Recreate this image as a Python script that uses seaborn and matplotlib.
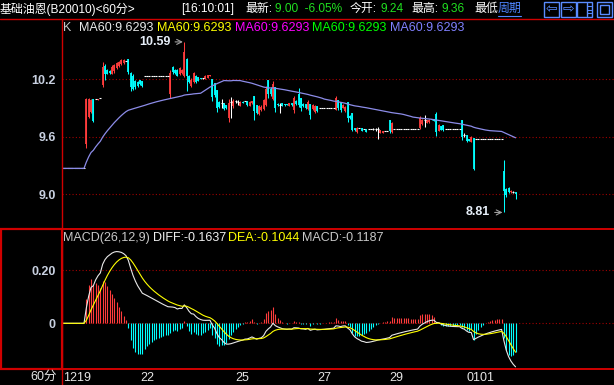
import numpy as np
import pandas as pd
import seaborn as sns
import matplotlib.pyplot as plt
from matplotlib.lines import Line2D
from matplotlib.patches import Rectangle

#--> 60 minute bars (index 0 = first slot of 1219)
bar_open = [
    9.27, 9.27, 9.27, 9.27, 9.27, 9.27, 9.27, 9.27, 9.27, 9.27,
    9.52, 9.81, 9.86, 9.99, 9.99, 9.98, 10.00, 10.14, 10.34, 10.30,
    10.29, 10.26, 10.29, 10.32, 10.34, 10.36, 10.37, 10.39, 10.41, 10.27,
    10.23, 10.18, 10.17, 10.19, 10.18, 10.23, 10.23, 10.23, 10.23, 10.23,
    10.23, 10.23, 10.23, 10.23, 10.23, 10.23, 10.05, 10.33, 10.30, 10.30,
    10.25, 10.27, 10.23, 10.41, 10.23, 10.13, 10.17, 10.23, 10.22, 10.21,
    10.21, 10.20, 10.21, 10.23, 10.20, 10.16, 10.09, 9.96, 9.95, 9.95,
    9.93, 9.80, 9.96, 9.92, 9.97, 9.96, 9.92, 9.96, 9.97, 9.97,
    9.92, 9.95, 10.03, 9.93, 9.84, 9.88, 9.89, 9.93, 10.19, 10.10,
    9.99, 10.12, 9.94, 9.93, 9.95, 9.94, 9.94, 9.92, 9.95, 9.88,
    9.97, 10.05, 10.00, 9.94, 9.94, 9.89, 9.94, 9.89, 9.86, 9.92,
    9.90, 9.90, 9.90, 9.90, 9.90, 9.90, 9.90, 9.88, 9.98, 9.96,
    9.90, 9.87, 9.96, 9.82, 9.85, 9.69, 9.65, 9.69, 9.69, 9.68,
    9.68, 9.68, 9.68, 9.68, 9.68, 9.68, 9.64, 9.64, 9.66, 9.66,
    9.77, 9.65, 9.68, 9.68, 9.68, 9.68, 9.68, 9.68, 9.68, 9.68,
    9.68, 9.68, 9.68, 9.69, 9.73, 9.77, 9.74, 9.75, 9.79, 9.79,
    9.84, 9.66, 9.71, 9.72, 9.68, 9.68, 9.68, 9.68, 9.68, 9.68,
    9.68, 9.77, 9.62, 9.62, 9.58, 9.55, 9.59, 9.58, 9.58, 9.58,
    9.58, 9.58, 9.58, 9.58, 9.58, 9.58, 9.58, 9.58, 9.58, 9.24,
    9.05, 9.07, 9.02, 9.02, 9.02,
]
bar_high = [
    9.27, 9.27, 9.27, 9.27, 9.27, 9.27, 9.27, 9.27, 9.27, 9.27,
    10.00, 10.00, 9.99, 9.99, 9.99, 9.99, 10.00, 10.38, 10.36, 10.31,
    10.30, 10.35, 10.36, 10.38, 10.39, 10.41, 10.41, 10.39, 10.41, 10.28,
    10.25, 10.19, 10.18, 10.19, 10.18, 10.23, 10.23, 10.23, 10.23, 10.23,
    10.23, 10.23, 10.23, 10.23, 10.23, 10.23, 10.30, 10.34, 10.31, 10.31,
    10.33, 10.31, 10.59, 10.42, 10.24, 10.21, 10.28, 10.24, 10.22, 10.21,
    10.21, 10.24, 10.24, 10.24, 10.20, 10.16, 10.09, 9.97, 9.99, 9.95,
    9.93, 9.99, 10.02, 9.99, 9.98, 9.98, 9.97, 9.97, 9.97, 9.97,
    9.97, 9.97, 10.03, 9.93, 9.93, 9.93, 9.99, 10.13, 10.19, 10.12,
    10.18, 10.12, 9.95, 9.95, 9.95, 9.94, 9.94, 9.95, 9.95, 10.03,
    9.98, 10.11, 10.00, 9.95, 9.94, 9.98, 9.94, 9.94, 9.93, 9.92,
    9.90, 9.90, 9.90, 9.90, 9.90, 9.90, 9.90, 10.03, 9.98, 9.96,
    9.94, 9.92, 9.96, 9.83, 9.85, 9.69, 9.70, 9.69, 9.69, 9.68,
    9.68, 9.68, 9.68, 9.69, 9.69, 9.70, 9.67, 9.66, 9.66, 9.66,
    9.77, 9.75, 9.68, 9.68, 9.68, 9.68, 9.68, 9.68, 9.68, 9.68,
    9.68, 9.68, 9.68, 9.82, 9.79, 9.83, 9.78, 9.79, 9.79, 9.79,
    9.86, 9.73, 9.71, 9.72, 9.68, 9.68, 9.68, 9.68, 9.68, 9.68,
    9.68, 9.78, 9.64, 9.62, 9.58, 9.61, 9.59, 9.58, 9.58, 9.58,
    9.58, 9.58, 9.58, 9.58, 9.58, 9.58, 9.58, 9.58, 9.58, 9.36,
    9.06, 9.08, 9.04, 9.03, 9.02,
]
bar_low = [
    9.27, 9.27, 9.27, 9.27, 9.27, 9.27, 9.27, 9.27, 9.27, 9.27,
    9.48, 9.80, 9.85, 9.75, 9.99, 9.98, 10.00, 10.12, 10.19, 10.25,
    10.26, 10.25, 10.27, 10.31, 10.33, 10.35, 10.36, 10.39, 10.26, 10.08,
    10.09, 10.10, 10.12, 10.14, 10.12, 10.23, 10.23, 10.23, 10.23, 10.23,
    10.23, 10.23, 10.23, 10.23, 10.23, 10.23, 10.00, 10.26, 10.26, 10.23,
    10.24, 10.26, 10.22, 10.08, 10.16, 10.12, 10.16, 10.16, 10.18, 10.20,
    10.20, 10.20, 10.21, 10.23, 9.97, 10.02, 9.86, 9.90, 9.90, 9.88,
    9.89, 9.75, 9.80, 9.90, 9.95, 9.93, 9.92, 9.95, 9.97, 9.92,
    9.92, 9.94, 9.77, 9.84, 9.83, 9.87, 9.88, 9.92, 10.00, 10.03,
    9.98, 9.86, 9.92, 9.85, 9.92, 9.92, 9.93, 9.92, 9.92, 9.85,
    9.93, 9.91, 9.87, 9.91, 9.89, 9.88, 9.79, 9.88, 9.85, 9.86,
    9.90, 9.90, 9.90, 9.90, 9.90, 9.90, 9.90, 9.88, 9.88, 9.86,
    9.90, 9.86, 9.75, 9.79, 9.66, 9.66, 9.64, 9.69, 9.66, 9.68,
    9.65, 9.68, 9.68, 9.67, 9.66, 9.58, 9.64, 9.64, 9.66, 9.66,
    9.64, 9.64, 9.68, 9.68, 9.68, 9.68, 9.68, 9.68, 9.68, 9.68,
    9.68, 9.68, 9.68, 9.68, 9.72, 9.70, 9.74, 9.74, 9.77, 9.76,
    9.61, 9.66, 9.67, 9.66, 9.68, 9.68, 9.68, 9.68, 9.68, 9.68,
    9.68, 9.57, 9.60, 9.55, 9.56, 9.55, 9.25, 9.58, 9.58, 9.58,
    9.58, 9.58, 9.58, 9.58, 9.58, 9.58, 9.58, 9.58, 9.58, 8.81,
    8.97, 9.01, 9.01, 9.01, 8.95,
]
bar_close = [
    9.27, 9.27, 9.27, 9.27, 9.27, 9.27, 9.27, 9.27, 9.27, 9.27,
    9.99, 9.99, 9.98, 9.76, 9.99, 9.99, 10.00, 10.33, 10.26, 10.26,
    10.27, 10.33, 10.35, 10.37, 10.38, 10.40, 10.40, 10.39, 10.28, 10.12,
    10.10, 10.12, 10.13, 10.15, 10.13, 10.23, 10.23, 10.23, 10.23, 10.23,
    10.23, 10.23, 10.23, 10.23, 10.23, 10.23, 10.27, 10.28, 10.27, 10.23,
    10.32, 10.30, 10.48, 10.23, 10.17, 10.19, 10.27, 10.17, 10.18, 10.20,
    10.21, 10.23, 10.24, 10.24, 10.02, 10.04, 9.90, 9.91, 9.95, 9.89,
    9.90, 9.95, 9.96, 9.97, 9.97, 9.96, 9.96, 9.95, 9.97, 9.93,
    9.96, 9.97, 9.87, 9.85, 9.92, 9.91, 9.98, 10.10, 10.05, 10.05,
    10.15, 9.90, 9.93, 9.93, 9.92, 9.93, 9.93, 9.95, 9.93, 10.00,
    9.94, 9.93, 9.90, 9.92, 9.90, 9.96, 9.83, 9.93, 9.92, 9.87,
    9.90, 9.90, 9.90, 9.90, 9.90, 9.90, 9.90, 10.00, 9.90, 9.88,
    9.93, 9.91, 9.80, 9.80, 9.67, 9.67, 9.69, 9.69, 9.66, 9.68,
    9.65, 9.68, 9.68, 9.68, 9.68, 9.68, 9.67, 9.66, 9.66, 9.66,
    9.66, 9.74, 9.68, 9.68, 9.68, 9.68, 9.68, 9.68, 9.68, 9.68,
    9.68, 9.68, 9.68, 9.80, 9.78, 9.77, 9.78, 9.78, 9.77, 9.76,
    9.65, 9.72, 9.67, 9.67, 9.68, 9.68, 9.68, 9.68, 9.68, 9.68,
    9.68, 9.60, 9.62, 9.56, 9.56, 9.60, 9.26, 9.58, 9.58, 9.58,
    9.58, 9.58, 9.58, 9.58, 9.58, 9.58, 9.58, 9.58, 9.58, 9.03,
    8.99, 9.02, 9.03, 9.02, 9.00,
]

day_ticks = [0, 33, 74, 109, 140, 173]
day_labels = ['1219', '22', '25', '27', '29', '0101']
price_ticks = [9.0, 9.6, 10.2]
price_tick_labels = ['9.0', '9.6', '10.2']
macd_ticks = [0.0, 0.20]
macd_tick_labels = ['0', '0.20']

#--> plot style
sns.set_theme(style="dark", rc={"axes.facecolor": "black", "figure.facecolor": "black"})
plt.rcParams['font.family'] = ['Liberation Sans', 'Noto Sans CJK SC', 'DejaVu Sans']

W, H = 614, 385
RED = '#d00000'
GRID = '#a00000'
UP, DOWN, FLAT = '#ff3c3c', '#00ffff', '#ffffff'
LBL = '#c8d0e0'

df = pd.DataFrame({'open': bar_open, 'high': bar_high, 'low': bar_low, 'close': bar_close})
df['idx'] = np.arange(len(df))
df['ma60'] = df['close'].rolling(60, min_periods=1).mean()
ema_short = df['close'].ewm(span=12, adjust=False).mean()
ema_long = df['close'].ewm(span=26, adjust=False).mean()
df['diff'] = ema_short - ema_long
df['dea'] = df['diff'].ewm(span=9, adjust=False).mean()
df['macd'] = 2 * (df['diff'] - df['dea'])


def fbox(x0, y0, x1, y1):
    # pixel box (top-left origin) -> figure fraction rect
    return [x0 / W, 1 - y1 / H, (x1 - x0) / W, (y1 - y0) / H]


def ftxt(x, y, s, **kw):
    fig.text(x / W, 1 - y / H, s, va='center', **kw)


fig = plt.figure(figsize=(W / 100, H / 100), dpi=100)
ax = fig.add_axes(fbox(62, 19, 614, 227))
axm = fig.add_axes(fbox(62, 229, 614, 368))
for a in (ax, axm):
    a.set_facecolor('black')
    for s in a.spines.values():
        s.set_visible(False)
    a.set_xlim(-0.43, 236.2)
    a.grid(False)

#--> price panel
ax.set_ylim(8.658, 10.829)
for p in price_ticks:
    ax.axhline(p, color=GRID, lw=0.8, ls=(0, (1, 2)), zorder=0)

i = df['idx'].to_numpy()
o, h, l, c = (df[k].to_numpy() for k in ('open', 'high', 'low', 'close'))
col = np.where(c > o, UP, np.where(c < o, DOWN, FLAT))
ax.vlines(i, l, h, colors=col, lw=0.75, zorder=2)
body = c != o
lo, hi = np.minimum(o, c), np.maximum(o, c)
mid = (lo + hi) / 2
thin = (hi - lo) < 0.012
lo = np.where(thin, mid - 0.006, lo)
hi = np.where(thin, mid + 0.006, hi)
ax.vlines(i[body], lo[body], hi[body], colors=col[body], lw=1.3, zorder=3)
ax.hlines(c[~body], i[~body] - 0.45, i[~body] + 0.45, colors=FLAT, lw=0.8, zorder=3)

sns.lineplot(data=df, x='idx', y='ma60', ax=ax, color='#8c8ce8', lw=0.9, legend=False, zorder=4)

imax, imin = int(np.argmax(h)), int(np.argmin(l))
for k, val in ((imax, h[imax]), (imin, l[imin])):
    ax.annotate(f'{val:.2f}', xy=(k, val), xytext=(-10, 0), textcoords='offset points',
                ha='right', va='center', color='#e6eef8', fontsize=9, fontweight='bold',
                arrowprops=dict(arrowstyle='->', color='#a0a0a0', lw=0.8, shrinkA=1, shrinkB=1))

ax.set_yticks(price_ticks, labels=price_tick_labels)
ax.tick_params(axis='y', length=0, pad=4.5, labelsize=9, labelcolor=LBL)
ax.tick_params(axis='x', bottom=False, labelbottom=False)
for t in ax.get_yticklabels():
    t.set_fontweight('bold')
ax.set_xlabel('')
ax.set_ylabel('')

#--> macd panel
axm.set_ylim(-0.1677, 0.354)
for v in macd_ticks:
    axm.axhline(v, color=GRID, lw=0.8, ls=(0, (1, 2)), zorder=0)
m = df['macd'].to_numpy()
axm.vlines(i, 0, m, colors=np.where(m >= 0, UP, DOWN), lw=0.8, zorder=2)
sns.lineplot(data=df, x='idx', y='diff', ax=axm, color='#e8e8e8', lw=0.8, legend=False, zorder=3)
sns.lineplot(data=df, x='idx', y='dea', ax=axm, color='#ffff00', lw=0.8, legend=False, zorder=3)
axm.set_yticks(macd_ticks, labels=macd_tick_labels)
axm.tick_params(axis='y', length=0, pad=4.5, labelsize=9, labelcolor=LBL)
for t in axm.get_yticklabels():
    t.set_fontweight('bold')
axm.set_xticks(day_ticks, labels=day_labels)
axm.tick_params(axis='x', length=0, pad=3, labelsize=9, labelcolor='#e6e6e6')
for t in axm.get_xticklabels():
    t.set_horizontalalignment('left')
axm.set_xlabel('')
axm.set_ylabel('')

#--> legends
ftxt(63, 28, 'K', color='#c8c8c8', fontsize=9)
for x0, cc in zip([79, 157, 235, 312, 390], ['#e8e8e8', '#ffff00', '#ff00ff', '#00ff00', '#8080ff']):
    ftxt(x0, 28, 'MA60:9.6293', color=cc, fontsize=9)
ftxt(63, 238, 'MACD(26,12,9)', color='#c8c8c8', fontsize=9)
ftxt(153, 238, 'DIFF:-0.1637', color='#f0f0f0', fontsize=9)
ftxt(228, 238, 'DEA:-0.1044', color='#ffff00', fontsize=9)
ftxt(302, 238, 'MACD:-0.1187', color='#c8c8c8', fontsize=9)
ftxt(57, 377, '60分', color='#e6e6e6', fontsize=9, ha='right')

#--> header line
HF = 8.6
ftxt(0, 9, '基础油恩(B20010)<60分>', color='white', fontsize=HF)
ftxt(181, 9, '[16:10:01]', color='white', fontsize=HF)
ftxt(245, 9, '最新:', color='white', fontsize=HF)
ftxt(275, 9, '9.00  -6.05%', color='#20e020', fontsize=HF)
ftxt(350, 9, '今开:', color='white', fontsize=HF)
ftxt(380, 9, '9.24', color='#20e020', fontsize=HF)
ftxt(411, 9, '最高:', color='white', fontsize=HF)
ftxt(441, 9, '9.36', color='#20e020', fontsize=HF)
ftxt(474, 9, '最低', color='white', fontsize=HF)
fig.text(498 / W, 1 - 9 / H, '周期', color='#4f86ff', fontsize=HF, va='center')
fig.add_artist(Line2D([498 / W, 521 / W], [1 - 16 / H] * 2, color='#4f86ff', lw=0.8))

ICON = '#5a8cff'
for x0, x1 in ((544, 559), (561, 576), (577, 592), (597, 612)):
    fig.add_artist(Rectangle((x0 / W, 1 - 17 / H), (x1 - x0) / W, 15 / H,
                             transform=fig.transFigure, fill=False, ec=ICON, lw=1))
fig.text(551.5 / W, 1 - 9.5 / H, '⇦', color=ICON, fontsize=10, ha='center', va='center', family='DejaVu Sans')
fig.text(568.5 / W, 1 - 9.5 / H, '⇨', color=ICON, fontsize=10, ha='center', va='center', family='DejaVu Sans')
fig.add_artist(Line2D([587 / W] * 2, [1 - 3 / H, 1 - 16 / H], color=ICON, lw=1))
for yy in (6, 9.5, 13):
    fig.add_artist(Line2D([587 / W, 591 / W], [1 - yy / H] * 2, color=ICON, lw=0.8))
fig.add_artist(Rectangle((600 / W, 1 - 14 / H), 9 / W, 9 / H,
                         transform=fig.transFigure, fill=False, ec=ICON, lw=1))

#--> frame lines
def hline(y, x0=0, x1=W, lw=1.0):
    fig.add_artist(Line2D([x0 / W, x1 / W], [1 - y / H] * 2, color=RED, lw=lw))


hline(18.5)
hline(228.5, lw=1.4)
hline(368.5, lw=1.4)
fig.add_artist(Line2D([61.5 / W] * 2, [1 - 18.5 / H, 0], color=RED, lw=1.0))
fig.add_artist(Rectangle((1 / W, 1 - 368.5 / H), 60.5 / W, 140 / H,
                         transform=fig.transFigure, fill=False, ec=RED, lw=1.6))

fig.savefig('out.png', dpi=100, facecolor='black')
